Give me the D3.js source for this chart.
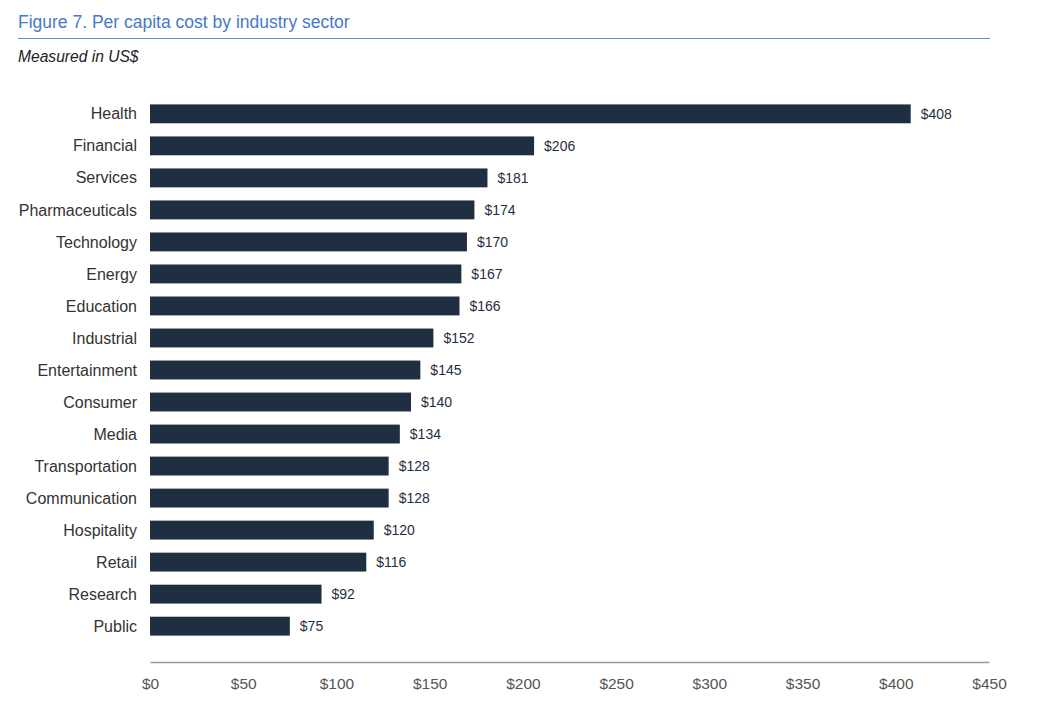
<!DOCTYPE html>
<html>
<head>
    <meta charset="utf-8">
    <style>
        body {
            margin: 0;
            background: #fff;
            font-family: 'Liberation Sans', Arial, sans-serif;
        }

        svg {
            display: block;
        }

        .x .domain {
            stroke: #999;
            stroke-width: 1.5px;
        }

        .x .tick line {
            display: none;
        }

        .x .tick text {
            font-size: 15.5px;
            fill: #555;
        }
    </style>
</head>
<body>
    <svg width="1051" height="720"></svg>

<script src="https://d3js.org/d3.v7.min.js"></script>
<script>

    // data
    let sectors = ["Health", "Financial", "Services", "Pharmaceuticals", "Technology", "Energy",
        "Education", "Industrial", "Entertainment", "Consumer", "Media", "Transportation",
        "Communication", "Hospitality", "Retail", "Research", "Public"];
    let costs = [408, 206, 181, 174, 170, 167, 166, 152, 145, 140, 134, 128, 128, 120, 116, 92, 75];
    let xTicks = [0, 50, 100, 150, 200, 250, 300, 350, 400, 450];

    let margin = { top: 98, right: 62, bottom: 58, left: 150 };
    let width = 1051;
    let height = 720;

    let svg = d3.select("svg");

    // title + rule + subtitle
    svg.append("text")
        .attr("x", 18)
        .attr("y", 28)
        .text("Figure 7. Per capita cost by industry sector")
        .style("font-size", "17.5px")
        .style("fill", "#4579c9");

    svg.append("line")
        .attr("x1", 18)
        .attr("x2", 990)
        .attr("y1", 38.5)
        .attr("y2", 38.5)
        .style("stroke", "#5b8dd6")
        .style("stroke-width", 1.2);

    svg.append("text")
        .attr("x", 18)
        .attr("y", 62)
        .text("Measured in US$")
        .style("font-size", "15.6px")
        .style("font-style", "italic")
        .style("fill", "#222");

    let x = d3.scaleLinear()
        .domain([0, 450])
        .range([margin.left, width - margin.right]);

    let y = d3.scaleBand()
        .domain(sectors)
        .range([margin.top, 642])
        .paddingInner(0.41)
        .paddingOuter(0.2);

    let data = sectors.map(function (s, i) { return { sector: s, cost: costs[i] } });

    // bars
    svg.selectAll(".bar")
        .data(data)
        .join("rect")
        .attr("class", "bar")
        .attr("x", x(0))
        .attr("y", function (d) { return y(d.sector) })
        .attr("width", function (d) { return x(d.cost) - x(0) })
        .attr("height", y.bandwidth())
        .style("fill", "#1f2f42");

    // value labels
    svg.selectAll(".val")
        .data(data)
        .join("text")
        .attr("class", "val")
        .attr("x", function (d) { return x(d.cost) + 10 })
        .attr("y", function (d) { return y(d.sector) + y.bandwidth() / 2 })
        .attr("dy", "0.35em")
        .text(function (d) { return "$" + d.cost })
        .style("font-size", "14px")
        .style("fill", "#1f2f42");

    // category labels
    svg.selectAll(".cat")
        .data(data)
        .join("text")
        .attr("class", "cat")
        .attr("x", 137)
        .attr("y", function (d) { return y(d.sector) + y.bandwidth() / 2 })
        .attr("dy", "0.35em")
        .attr("text-anchor", "end")
        .text(function (d) { return d.sector })
        .style("font-size", "16px")
        .style("fill", "#333");

    // x axis
    let xAxisSettings = d3.axisBottom(x)
        .tickValues(xTicks)
        .tickSize(0)
        .tickPadding(16)
        .tickFormat(function (d) { return "$" + d });

    svg.append("g")
        .attr("class", "x axis")
        .attr("transform", "translate(0,662)")
        .call(xAxisSettings);

</script>
</body>
</html>
